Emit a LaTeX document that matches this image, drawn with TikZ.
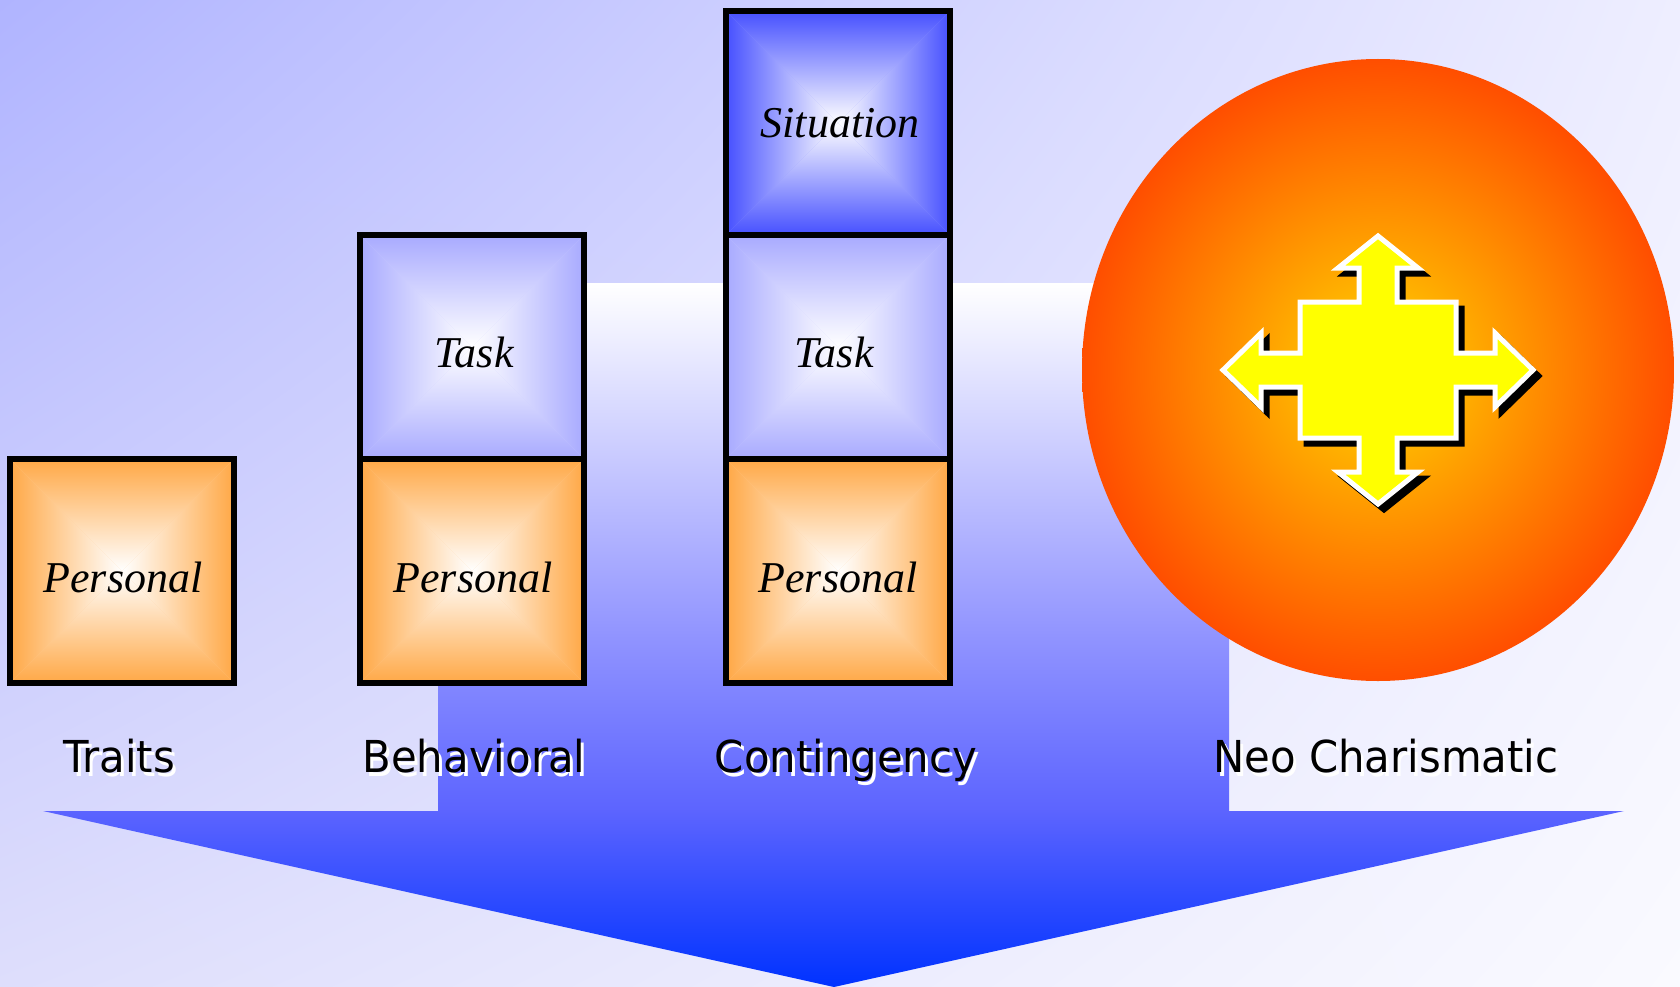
\documentclass[tikz,border=0pt]{standalone}
\usepackage{fontspec}
\usetikzlibrary{shadings}
\setmainfont{Liberation Serif}
\newfontfamily\lblfont[FakeStretch=0.95]{DejaVu Sans}
\definecolor{bgUL}{RGB}{176,180,255}
\definecolor{bgUR}{RGB}{238,238,255}
\definecolor{bgLL}{RGB}{222,222,252}
\definecolor{bgLR}{RGB}{250,250,255}
\definecolor{arB}{RGB}{0,50,255}
\definecolor{arQ}{RGB}{92,100,255}
\definecolor{arM}{RGB}{145,148,255}
\definecolor{sunA}{RGB}{255,215,0}
\definecolor{sunB}{RGB}{255,165,0}
\definecolor{sunC}{RGB}{255,78,0}
\definecolor{persC}{RGB}{255,168,70}
\definecolor{taskC}{RGB}{168,170,255}
\definecolor{sitC}{RGB}{70,80,255}
\definecolor{quadY}{RGB}{255,255,0}
\pgfdeclareradialshading{sun}{\pgfpoint{0bp}{0bp}}{color(0bp)=(sunA); color(9bp)=(sunB); color(25bp)=(sunC); color(50bp)=(sunC)}
\pgfdeclareverticalshading{arrowsh}{100bp}{color(0bp)=(arB); color(25bp)=(arB); color(37.5bp)=(arQ); color(50bp)=(arM); color(75bp)=(white); color(100bp)=(white)}
\newcommand\pyrbox[7]{%
  \fill[#7!55!white] (#1,#2) rectangle (#3,#4);
  \shade[top color=#7, bottom color=white] (#1,#2)--(#3,#2)--(#5,#6)--cycle;
  \shade[bottom color=#7, top color=white] (#1,#4)--(#3,#4)--(#5,#6)--cycle;
  \shade[left color=#7, right color=white] (#1,#2)--(#1,#4)--(#5,#6)--cycle;
  \shade[right color=#7, left color=white] (#3,#2)--(#3,#4)--(#5,#6)--cycle;
}
\tikzset{
  box/.style={draw=black, line width=6pt, minimum width=224pt, minimum height=224pt, inner sep=0pt},
  boxtext/.style={font=\fontsize{44}{50}\selectfont\itshape, anchor=base, inner sep=0pt},
  lbl/.style={font=\lblfont\fontsize{44}{50}\selectfont, anchor=base, inner sep=0pt, text=black},
  lblshadow/.style={lbl, text=white},
  quadstyle/.style={line width=5pt, line join=miter},
}
\begin{document}
\begin{tikzpicture}[x=1pt,y=-1pt]
\useasboundingbox (0,0) rectangle (1680,987);
% background
\shade[upper left=bgUL, upper right=bgUR, lower left=bgLL, lower right=bgLR] (0,0) rectangle (1680,987);
% big arrow
\shade[shading=arrowsh] (438,283) -- (1229,283) -- (1229,811) -- (1624,811) -- (834,987) -- (43,811) -- (438,811) -- cycle;
% sun
\shade[shading=sun] (1378,370) ellipse [x radius=296pt, y radius=311pt];
% four-way arrow shadow
\begin{scope}[shift={(1384,376)}]
\draw[quadstyle, fill=black, draw=black] (0,-134) -- (40,-102) -- (19,-102) -- (19,-68) -- (78,-68) -- (78,-17) -- (117,-17) -- (117,-37) -- (155,0) -- (117,37) -- (117,17) -- (78,17) -- (78,68) -- (19,68) -- (19,102) -- (40,102) -- (0,134) -- (-40,102) -- (-19,102) -- (-19,68) -- (-78,68) -- (-78,17) -- (-117,17) -- (-117,37) -- (-155,0) -- (-117,-37) -- (-117,-17) -- (-78,-17) -- (-78,-68) -- (-19,-68) -- (-19,-102) -- (-40,-102) -- cycle;
\end{scope}
\begin{scope}[shift={(1378,370)}]
\draw[quadstyle, fill=quadY, draw=white] (0,-134) -- (40,-102) -- (19,-102) -- (19,-68) -- (78,-68) -- (78,-17) -- (117,-17) -- (117,-37) -- (155,0) -- (117,37) -- (117,17) -- (78,17) -- (78,68) -- (19,68) -- (19,102) -- (40,102) -- (0,134) -- (-40,102) -- (-19,102) -- (-19,68) -- (-78,68) -- (-78,17) -- (-117,17) -- (-117,37) -- (-155,0) -- (-117,-37) -- (-117,-17) -- (-78,-17) -- (-78,-68) -- (-19,-68) -- (-19,-102) -- (-40,-102) -- cycle;
\end{scope}
% boxes: shading
\pyrbox{10}{459}{234}{683}{122}{571}{persC}
\pyrbox{360}{235}{584}{459}{472}{347}{taskC}
\pyrbox{360}{459}{584}{683}{472}{571}{persC}
\pyrbox{726}{11}{950}{235}{838}{123}{sitC}
\pyrbox{726}{235}{950}{459}{838}{347}{taskC}
\pyrbox{726}{459}{950}{683}{838}{571}{persC}
% boxes: borders
\node[box] (p1) at (122,571) {};
\node[box] (t2) at (472,347) {};
\node[box] (p2) at (472,571) {};
\node[box] (s3) at (838,123) {};
\node[box] (t3) at (838,347) {};
\node[box] (p3) at (838,571) {};
% box texts
\node[boxtext] (p1t) at (123,592) {Personal};
\node[boxtext] (t2t) at (474,367) {Task};
\node[boxtext] (p2t) at (473,592) {Personal};
\node[boxtext] (s3t) at (840,138) {Situation};
\node[boxtext] (t3t) at (834,367) {Task};
\node[boxtext] (p3t) at (838,592) {Personal};
% labels with white shadow
\node[lblshadow] (l1s) at (122,776) {Traits};
\node[lblshadow] (l2s) at (477,776) {Behavioral};
\node[lblshadow] (l3s) at (849,776) {Contingency};
\node[lblshadow] (l4s) at (1389,776) {Neo Charismatic};
\node[lbl] (l1) at (119,772) {Traits};
\node[lbl] (l2) at (474,772) {Behavioral};
\node[lbl] (l3) at (846,772) {Contingency};
\node[lbl] (l4) at (1386,772) {Neo Charismatic};
\end{tikzpicture}
\end{document}
